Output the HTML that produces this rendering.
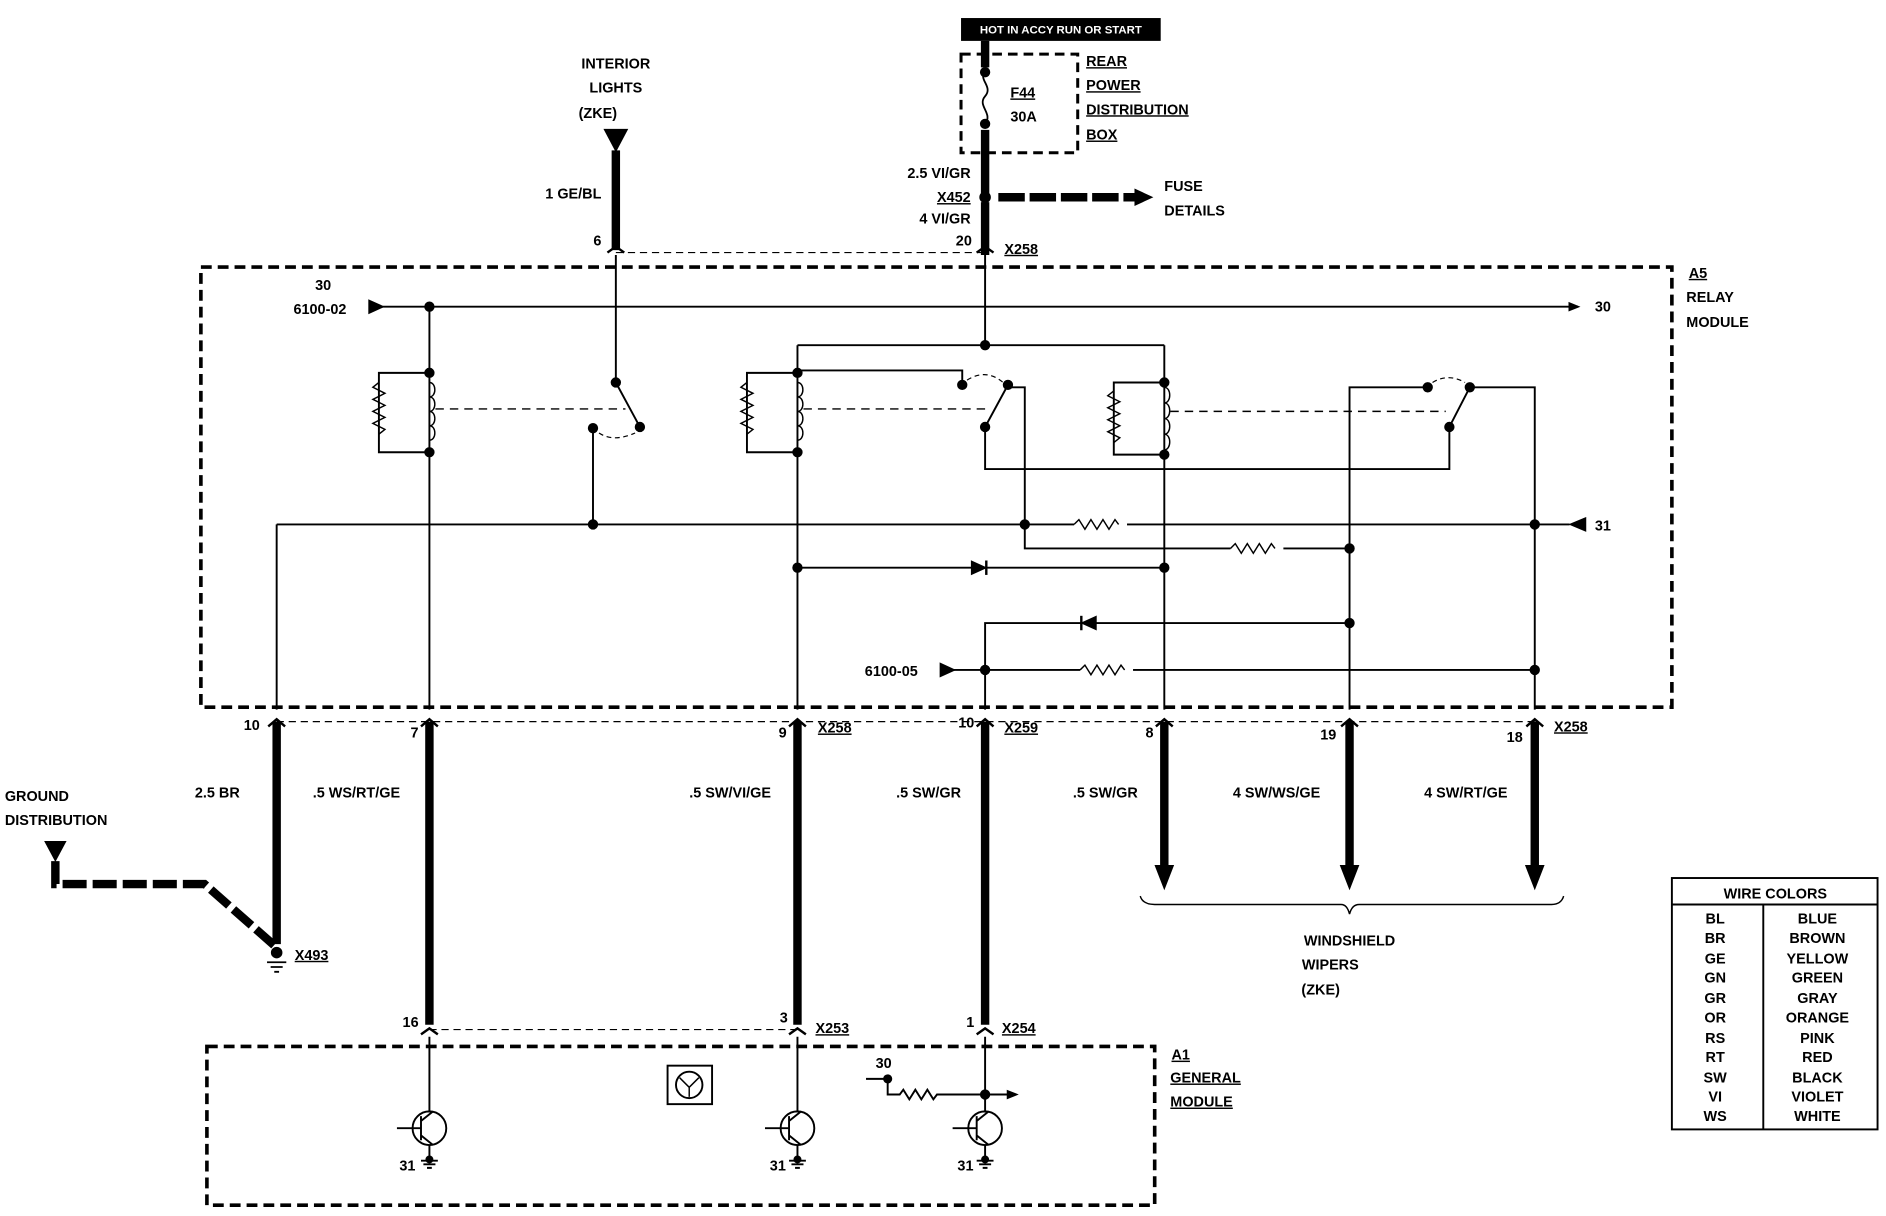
<!DOCTYPE html>
<html><head><meta charset="utf-8"><style>
html,body{margin:0;padding:0;background:#fff;}
svg{display:block}
text{font-family:"Liberation Sans",sans-serif;font-weight:bold;font-size:12px;fill:#000}
</style></head><body>
<svg width="1886" height="1216" viewBox="0 0 1568 1011" xmlns="http://www.w3.org/2000/svg">
<defs>
<marker id="ar" markerWidth="10" markerHeight="10" refX="8" refY="5" orient="auto" markerUnits="userSpaceOnUse"><path d="M0,1 L10,5 L0,9 z" fill="#000"/></marker>
</defs>
<g stroke="#000" fill="none" stroke-width="1.6">
<!-- top black label -->
<rect x="799" y="15" width="166" height="19" fill="#000" stroke="none"/>
<!-- fuse box -->
<rect x="799" y="45" width="97" height="82" stroke-dasharray="8,5" stroke-width="2.5"/>
<path d="M819 34V56M819 108V162M819 168V212" stroke-width="7"/>
<path d="M819 60 C813 66,826 72,819 80 C812 88,826 94,819 103" stroke-width="1.5"/>
<circle cx="819" cy="60" r="3.5" fill="#000"/><circle cx="819" cy="103" r="3.5" fill="#000"/>
<circle cx="819" cy="164" r="4" fill="#000"/>
<path d="M830 164H945" stroke-width="7" stroke-dasharray="22,4"/>
<path d="M944 158L957 164L944 170z" fill="#000"/>
<!-- interior lights -->
<path d="M503 108H521L512 125z" fill="#000"/>
<path d="M512 125V208" stroke-width="7"/>
<path d="M512 210H819" stroke-dasharray="6,4" stroke-width="1"/>
<!-- connectors top -->
<path d="M505 210L512 205L519 210M812 210L819 205L826 210" stroke-width="2"/>
<!-- relay module box -->
<rect x="167" y="222" width="1223" height="366" stroke-dasharray="9,5" stroke-width="3"/>
<!-- line 30 -->
<path d="M307 250L318 255L307 260z" fill="#000"/>
<path d="M318 255H1312" marker-end="url(#ar)"/>
<circle cx="357" cy="255" r="3.5" fill="#000"/>
<!-- relay1 -->
<path d="M357 255V590"/>
<path d="M357 310H315V376H357"/>
<path d="M315 318 l-5 4 l10 5 l-10 5 l10 5 l-10 5 l10 5 l-10 5 l10 5 l-5 4" stroke-width="1.2"/>
<path d="M357 318 c6 0,6 12,0 12 c6 0,6 12,0 12 c6 0,6 12,0 12 c6 0,6 12,0 12" stroke-width="1.2"/>
<circle cx="357" cy="310" r="3.5" fill="#000"/><circle cx="357" cy="376" r="3.5" fill="#000"/>
<path d="M362 340H520" stroke-dasharray="7,5" stroke-width="1.2"/>
<path d="M512 212V318L532 355"/>
<circle cx="512" cy="318" r="3.5" fill="#000"/><circle cx="532" cy="355" r="3.5" fill="#000"/>
<circle cx="493" cy="356" r="3.5" fill="#000"/>
<path d="M493 356V436"/>
<path d="M498 360 Q510 368 528 360" stroke-dasharray="4,3" stroke-width="1"/>
<!-- line 31 -->
<path d="M230 436H1305M230 436V590"/>
<path d="M1318 431L1306 436L1318 441z" fill="#000"/>
<circle cx="493" cy="436" r="3.5" fill="#000"/><circle cx="852" cy="436" r="3.5" fill="#000"/><circle cx="1276" cy="436" r="3.5" fill="#000"/>
<rect x="893" y="430" width="44" height="12" fill="#fff" stroke="none"/>
<path d="M893 436 l4 -4 l5 8 l5 -8 l5 8 l5 -8 l5 8 l5 -8 l3 4" stroke-width="1.2"/>
<!-- relay2 -->
<path d="M819 212V287M663 287H968M663 287V590"/>
<circle cx="819" cy="287" r="3.5" fill="#000"/>
<path d="M663 310H621V376H663"/>
<path d="M621 318 l-5 4 l10 5 l-10 5 l10 5 l-10 5 l10 5 l-10 5 l10 5 l-5 4" stroke-width="1.2"/>
<path d="M663 318 c6 0,6 12,0 12 c6 0,6 12,0 12 c6 0,6 12,0 12 c6 0,6 12,0 12" stroke-width="1.2"/>
<circle cx="663" cy="310" r="3.5" fill="#000"/><circle cx="663" cy="376" r="3.5" fill="#000"/>
<path d="M668 340H820" stroke-dasharray="7,5" stroke-width="1.2"/>
<path d="M663 308H800V318"/>
<circle cx="800" cy="320" r="3.5" fill="#000"/>
<path d="M804 316 Q820 306 834 318" stroke-dasharray="4,3" stroke-width="1"/>
<circle cx="838" cy="320" r="3.5" fill="#000"/>
<path d="M838 320L819 355V390H1205V355M838 322H852V456H1122"/>
<circle cx="819" cy="355" r="3.5" fill="#000"/>
<rect x="1023" y="450" width="44" height="12" fill="#fff" stroke="none"/>
<path d="M1023 456 l4 -4 l5 8 l5 -8 l5 8 l5 -8 l5 8 l5 -8 l3 4" stroke-width="1.2"/>
<!-- diode line 472 -->
<path d="M663 472H968"/>
<path d="M808 467L819 472L808 477z" fill="#000"/><path d="M820 466V478" stroke-width="2"/>
<circle cx="663" cy="472" r="3.5" fill="#000"/><circle cx="968" cy="472" r="3.5" fill="#000"/>
<!-- relay3 -->
<path d="M968 287V590"/>
<path d="M968 318H926V378H968"/>
<path d="M926 325 l-5 4 l10 5 l-10 5 l10 5 l-10 5 l10 5 l-10 5 l10 5 l-5 4" stroke-width="1.2"/>
<path d="M968 322 c6 0,6 13,0 13 c6 0,6 13,0 13 c6 0,6 13,0 13 c6 0,6 13,0 13" stroke-width="1.2"/>
<circle cx="968" cy="318" r="3.5" fill="#000"/><circle cx="968" cy="378" r="3.5" fill="#000"/>
<path d="M973 342H1202" stroke-dasharray="7,5" stroke-width="1.2"/>
<path d="M1187 322H1122V590M1222 322H1276V590M1222 322L1205 355"/>
<circle cx="1187" cy="322" r="3.5" fill="#000"/><circle cx="1222" cy="322" r="3.5" fill="#000"/><circle cx="1205" cy="355" r="3.5" fill="#000"/>
<path d="M1191 318 Q1204 310 1218 318" stroke-dasharray="4,3" stroke-width="1"/>
<circle cx="1122" cy="456" r="3.5" fill="#000"/><circle cx="1122" cy="518" r="3.5" fill="#000"/>
<!-- diode line 518 -->
<path d="M819 590V518H1122"/>
<path d="M911 513L900 518L911 523z" fill="#000"/><path d="M899 512V524" stroke-width="2"/>
<!-- 6100-05 -->
<path d="M782 552L793 557L782 562z" fill="#000"/>
<path d="M793 557H1276"/>
<circle cx="819" cy="557" r="3.5" fill="#000"/><circle cx="1276" cy="557" r="3.5" fill="#000"/>
<rect x="898" y="551" width="44" height="12" fill="#fff" stroke="none"/>
<path d="M898 557 l4 -4 l5 8 l5 -8 l5 8 l5 -8 l5 8 l5 -8 l3 4" stroke-width="1.2"/>
<!-- bottom connector line -->
<path d="M230 600H1276" stroke-dasharray="6,4" stroke-width="1"/>
<path d="M223 604L230 598L237 604M350 604L357 598L364 604M656 604L663 598L670 604M812 604L819 598L826 604M961 604L968 598L975 604M1115 604L1122 598L1129 604M1269 604L1276 598L1283 604" stroke-width="2"/>
<path d="M230 600V785M357 600V852M663 600V852M819 600V852M968 600V722M1122 600V722M1276 600V722" stroke-width="7"/>
<path d="M961 720H975L968 738zM1115 720H1129L1122 738zM1269 720H1283L1276 738z" fill="#000"/>
<path d="M948 745 Q950 752 960 752H1115 Q1120 752 1122 760 Q1124 752 1130 752H1290 Q1298 752 1300 745" stroke-width="1.2"/>
<!-- ground distribution -->
<path d="M38 700H54L46 715z" fill="#000"/>
<path d="M46 716V735H170L228 786" stroke-width="7" stroke-dasharray="20,5"/>
<circle cx="230" cy="792" r="4" fill="#000"/>
<path d="M222 800H238M225 804H235M228 808H232" stroke-width="1.5"/>
<!-- lower connectors -->
<path d="M357 856H663" stroke-dasharray="6,4" stroke-width="1"/>
<path d="M350 860L357 855L364 860M656 860L663 855L670 860M812 860L819 855L826 860" stroke-width="2"/>
<!-- general module -->
<rect x="172" y="870" width="788" height="132" stroke-dasharray="9,5" stroke-width="3"/>
<rect x="555" y="886" width="37" height="32"/>
<circle cx="573" cy="902" r="11"/>
<path d="M565 896L573 904L581 896M573 904V912" stroke-width="1.2"/>
<!-- transistors -->
<g>
<path d="M357 862V925M357 952V962"/><circle cx="357" cy="938" r="14"/>
<path d="M330 938H350M350 928V948M350 932L360 924M350 944L360 952"/>
<path d="M350 965H364M352 968H362M355 971H359"/><circle cx="357" cy="964" r="2.5" fill="#000"/>
</g>
<g>
<path d="M663 862V925M663 952V962"/><circle cx="663" cy="938" r="14"/>
<path d="M636 938H656M656 928V948M656 932L666 924M656 944L666 952"/>
<path d="M656 965H670M658 968H668M661 971H665"/><circle cx="663" cy="964" r="2.5" fill="#000"/>
</g>
<g>
<path d="M819 862V925M819 952V962"/><circle cx="819" cy="938" r="14"/>
<path d="M792 938H812M812 928V948M812 932L822 924M812 944L822 952"/>
<path d="M812 965H826M814 968H824M817 971H821"/><circle cx="819" cy="964" r="2.5" fill="#000"/>
</g>
<path d="M720 897H738V910H748 l3 -4 l5 8 l5 -8 l5 8 l5 -8 l5 8 l3 -4 H845" marker-end="url(#ar)"/>
<circle cx="738" cy="897" r="3" fill="#000"/><circle cx="819" cy="910" r="3.5" fill="#000"/>
<!-- wire colors table -->
<rect x="1390" y="730" width="171" height="209"/>
<path d="M1390 752H1561M1466 752V939"/>
</g>
<g>
<text x="882" y="28" text-anchor="middle" style="fill:#fff;font-size:9.5px">HOT IN ACCY RUN OR START</text>
<text x="840" y="81" text-decoration="underline">F44</text>
<text x="840" y="101">30A</text>
<text x="903" y="55" text-decoration="underline">REAR</text>
<text x="903" y="75" text-decoration="underline">POWER</text>
<text x="903" y="95" text-decoration="underline">DISTRIBUTION</text>
<text x="903" y="116" text-decoration="underline">BOX</text>
<text x="807" y="148" text-anchor="end">2.5 VI/GR</text>
<text x="807" y="168" text-anchor="end" text-decoration="underline">X452</text>
<text x="807" y="186" text-anchor="end">4  VI/GR</text>
<text x="968" y="159">FUSE</text>
<text x="968" y="179">DETAILS</text>
<text x="808" y="204" text-anchor="end">20</text>
<text x="835" y="211" text-decoration="underline">X258</text>
<text x="512" y="57" text-anchor="middle">INTERIOR</text>
<text x="512" y="77" text-anchor="middle">LIGHTS</text>
<text x="497" y="98" text-anchor="middle">(ZKE)</text>
<text x="500" y="165" text-anchor="end">1 GE/BL</text>
<text x="500" y="204" text-anchor="end">6</text>
<text x="1404" y="231" text-decoration="underline">A5</text>
<text x="1402" y="251">RELAY</text>
<text x="1402" y="272">MODULE</text>
<text x="262" y="241">30</text>
<text x="244" y="261">6100-02</text>
<text x="1326" y="259">30</text>
<text x="1326" y="441">31</text>
<text x="719" y="562">6100-05</text>
<text x="216" y="607" text-anchor="end">10</text>
<text x="348" y="613" text-anchor="end">7</text>
<text x="654" y="613" text-anchor="end">9</text>
<text x="680" y="609" text-decoration="underline">X258</text>
<text x="810" y="605" text-anchor="end">10</text>
<text x="835" y="609" text-decoration="underline">X259</text>
<text x="959" y="613" text-anchor="end">8</text>
<text x="1111" y="615" text-anchor="end">19</text>
<text x="1266" y="617" text-anchor="end">18</text>
<text x="1292" y="608" text-decoration="underline">X258</text>
<text x="162" y="663">2.5  BR</text>
<text x="260" y="663">.5 WS/RT/GE</text>
<text x="573" y="663">.5 SW/VI/GE</text>
<text x="745" y="663">.5 SW/GR</text>
<text x="892" y="663">.5 SW/GR</text>
<text x="1025" y="663">4  SW/WS/GE</text>
<text x="1184" y="663">4  SW/RT/GE</text>
<text x="4" y="666">GROUND</text>
<text x="4" y="686">DISTRIBUTION</text>
<text x="245" y="798" text-decoration="underline">X493</text>
<text x="1122" y="786" text-anchor="middle">WINDSHIELD</text>
<text x="1106" y="806" text-anchor="middle">WIPERS</text>
<text x="1098" y="827" text-anchor="middle">(ZKE)</text>
<text x="348" y="854" text-anchor="end">16</text>
<text x="655" y="850" text-anchor="end">3</text>
<text x="678" y="859" text-decoration="underline">X253</text>
<text x="810" y="854" text-anchor="end">1</text>
<text x="833" y="859" text-decoration="underline">X254</text>
<text x="974" y="881" text-decoration="underline">A1</text>
<text x="973" y="900" text-decoration="underline">GENERAL</text>
<text x="973" y="920" text-decoration="underline">MODULE</text>
<text x="728" y="888">30</text>
<text x="332" y="973">31</text>
<text x="640" y="973">31</text>
<text x="796" y="973">31</text>
<text x="1476" y="747" text-anchor="middle">WIRE COLORS</text>
<g text-anchor="middle">
<text x="1426" y="768">BL</text><text x="1511" y="768">BLUE</text>
<text x="1426" y="784">BR</text><text x="1511" y="784">BROWN</text>
<text x="1426" y="801">GE</text><text x="1511" y="801">YELLOW</text>
<text x="1426" y="817">GN</text><text x="1511" y="817">GREEN</text>
<text x="1426" y="834">GR</text><text x="1511" y="834">GRAY</text>
<text x="1426" y="850">OR</text><text x="1511" y="850">ORANGE</text>
<text x="1426" y="867">RS</text><text x="1511" y="867">PINK</text>
<text x="1426" y="883">RT</text><text x="1511" y="883">RED</text>
<text x="1426" y="900">SW</text><text x="1511" y="900">BLACK</text>
<text x="1426" y="916">VI</text><text x="1511" y="916">VIOLET</text>
<text x="1426" y="932">WS</text><text x="1511" y="932">WHITE</text>
</g>
</g>
</svg>
</body></html>
